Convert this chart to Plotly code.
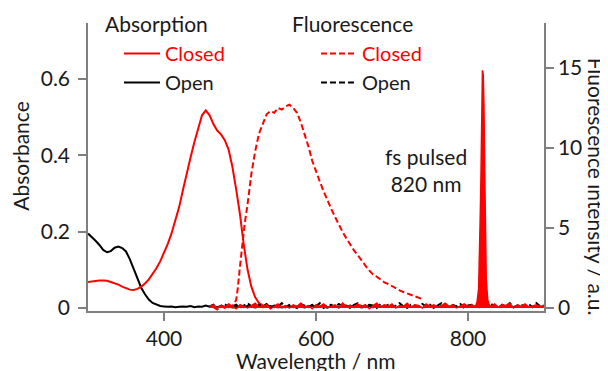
import plotly.graph_objects as go

# ---------------- data ----------------
abs_closed_x = [300, 305, 310, 315, 320, 325, 330, 335, 340, 345, 350, 355, 360, 365, 370,
                375, 380, 385, 390, 395, 400, 405, 410, 415, 420, 425, 430, 435, 440, 445,
                450, 455, 460, 465, 470, 475, 480, 485, 490, 495, 500, 505, 510, 515, 520,
                525, 530, 535, 540, 545, 550, 555, 560]
abs_closed_y = [0.068, 0.070, 0.071, 0.072, 0.072, 0.071, 0.068, 0.065, 0.061, 0.056, 0.051,
                0.048, 0.047, 0.050, 0.056, 0.064, 0.075, 0.088, 0.104, 0.122, 0.143, 0.168,
                0.196, 0.228, 0.265, 0.310, 0.355, 0.395, 0.435, 0.470, 0.505, 0.518, 0.505,
                0.482, 0.465, 0.455, 0.440, 0.415, 0.370, 0.310, 0.245, 0.165, 0.100, 0.055,
                0.028, 0.013, 0.006, 0.003, 0.002, 0.004, 0.001, 0.003, 0.002]

abs_open_x = [300, 305, 310, 315, 320, 325, 330, 335, 340, 345, 350, 355, 360, 365, 370,
              375, 380, 385, 390, 395, 400, 405, 410, 415, 420, 425, 430, 435, 440, 445,
              450, 455, 460, 465, 470, 475, 480, 485, 490, 495, 500, 505, 510, 515, 520,
              525, 530, 535, 540, 545, 550, 555, 560, 565, 570, 575, 580, 585, 590, 595,
              600, 605, 610, 615, 620, 625, 630, 635, 640, 645, 650, 655, 660, 665, 670,
              675, 680, 685, 690, 695, 700]
abs_open_y = [0.195, 0.186, 0.176, 0.165, 0.152, 0.146, 0.149, 0.158, 0.161, 0.157, 0.148,
              0.128, 0.103, 0.077, 0.053, 0.036, 0.022, 0.013, 0.008, 0.005, 0.004, 0.003,
              0.004, 0.002, 0.003, 0.004, 0.003, 0.005, 0.002, 0.004, 0.003, 0.006, 0.003,
              0.004, 0.002, 0.005, 0.003, 0.004, 0.001, 0.003, 0.004, 0.002, 0.005, 0.003,
              0.001, 0.004, 0.002, 0.003, 0.005, 0.002, 0.004, 0.001, 0.003, 0.005, 0.002,
              0.004, 0.003, 0.001, 0.004, 0.006, 0.002, 0.003, 0.004, 0.001, 0.005, 0.003,
              0.002, 0.004, 0.003, 0.006, 0.002, 0.004, 0.001, 0.003, 0.005, 0.002, 0.004,
              0.003, 0.005, 0.002, 0.004]

fl_closed_x = [465, 470, 475, 480, 485, 490, 495, 497, 500, 503, 506, 510, 515, 520, 525,
               530, 535, 540, 545, 550, 555, 560, 565, 570, 575, 580, 585, 590, 595, 600,
               605, 610, 615, 620, 625, 630, 635, 640, 645, 650, 655, 660, 665, 670, 675,
               680, 685, 690, 695, 700, 705, 710, 715, 720, 725, 730, 735, 740]
fl_closed_y = [0.05, -0.1, 0.1, 0.0, 0.15, 0.1, 0.5, 1.2, 2.6, 4.0, 5.2, 6.5, 8.4, 9.8, 10.9,
               11.5, 12.1, 12.3, 12.2, 12.5, 12.4, 12.6, 12.7, 12.5, 12.2, 11.6, 10.9, 10.1,
               9.2, 8.5, 7.9, 7.3, 6.7, 6.2, 5.7, 5.2, 4.75, 4.35, 3.95, 3.6, 3.3, 2.95,
               2.65, 2.35, 2.1, 1.95, 1.75, 1.6, 1.5, 1.35, 1.2, 1.1, 1.0, 0.9, 0.8, 0.7,
               0.6, 0.55]

fl_open_x = [460, 465, 470, 475, 480, 485, 490, 495, 500, 505, 510, 515, 520, 525, 530,
             535, 540, 545, 550, 555, 560, 565, 570, 575, 580, 585, 590, 595, 600, 605,
             610, 615, 620, 625, 630, 635, 640, 645, 650, 655, 660, 665, 670, 675, 680,
             685, 690, 695, 700, 705, 710, 715, 720, 725, 730, 735, 740, 745, 750, 755,
             760, 765, 770, 775, 780, 785, 790, 795, 800, 805, 810, 815, 820, 825, 830,
             835, 840, 845, 850, 855, 860, 865, 870, 875, 880, 885, 890, 895, 900]
fl_open_y = [0.1, 0.2, 0.0, 0.15, 0.25, 0.05, 0.1, 0.2, 0.0, 0.15, 0.3, 0.1, 0.05, 0.2, 0.1,
             0.25, 0.0, 0.15, 0.1, 0.3, 0.05, 0.2, 0.1, 0.0, 0.25, 0.15, 0.05, 0.2, 0.1, 0.3,
             0.0, 0.15, 0.2, 0.05, 0.25, 0.1, 0.15, 0.0, 0.2, 0.3, 0.1, 0.05, 0.2, 0.15, 0.0,
             0.25, 0.1, 0.2, 0.05, 0.15, 0.3, 0.1, 0.0, 0.2, 0.15, 0.05, 0.25, 0.1, 0.2, 0.0,
             0.15, 0.3, 0.1, 0.05, 0.2, 0.1, 0.25, 0.0, 0.15, 0.2, 0.1, 0.05, 0.2, 0.1, 0.25,
             0.15, 0.0, 0.2, 0.1, 0.3, 0.05, 0.15, 0.2, 0.1, 0.25, 0.05, 0.3, 0.1, 0.15]

laser_x = [460, 465, 470, 475, 480, 485, 490, 495, 500, 505, 510, 515, 520, 525, 530,
           535, 540, 545, 550, 555, 560, 565, 570, 575, 580, 585, 590, 595, 600, 605,
           610, 615, 620, 625, 630, 635, 640, 645, 650, 655, 660, 665, 670, 675, 680,
           685, 690, 695, 700, 705, 710, 715, 720, 725, 730, 735, 740, 745, 750, 755,
           760, 765, 770, 775, 780, 785, 790, 795, 800, 805, 810,
           812, 814, 815, 816, 817, 818, 819, 820, 821, 822, 823, 824, 826, 828,
           830, 835, 840, 845, 850, 855, 860, 865, 870, 875, 880, 885, 890, 895, 900]
laser_y = [0.1, 0.2, 0.0, 0.15, 0.05, 0.25, 0.1, -0.05, 0.2, 0.1,
           0.0, 0.15, 0.3, 0.05, 0.1, 0.2, -0.05, 0.1, 0.25, 0.05,
           0.15, 0.0, 0.2, 0.1, 0.3, 0.05, 0.15, -0.05, 0.2, 0.1,
           0.25, 0.05, 0.1, 0.2, 0.0, 0.3, 0.1, 0.15, 0.05, 0.25,
           0.1, 0.2, -0.05, 0.15, 0.3, 0.05, 0.2, 0.1, 0.25, 0.0,
           0.15, 0.1, 0.3, 0.05, 0.2, 0.15, 0.0, 0.25, 0.1, 0.2,
           0.05, 0.15, 0.3, 0.1, 0.2, 0.0, 0.15, 0.25, 0.1, 0.2,
           0.1,
           0.4, 1.2, 2.8, 5.5, 8.0, 12.8, 14.85, 14.6, 12.7, 8.5, 4.5, 1.8, 0.5, 0.2,
           0.1, 0.25, 0.05, 0.2, 0.15, 0.3, 0.0, 0.2, 0.1, 0.25, 0.05, 0.15, 0.2, 0.1, 0.15]

x_ticks = [400, 600, 800]
y_ticks = [0, 0.2, 0.4, 0.6]
y_ticklabels = ["0", "0.2", "0.4", "0.6"]
y2_ticks = [0, 5, 10, 15]

RED = "#ff0000"
BLACK = "#000000"
AXIS = "#7f7f7f"
TXT = "#1a1a1a"
FONT = "Lato"
FS = 21

fig = go.Figure()

fig.add_trace(go.Scatter(x=fl_open_x, y=fl_open_y, yaxis="y2", mode="lines",
                         line=dict(color=BLACK, width=2, dash="6px,3px"),
                         name="Open", legend="legend2", legendrank=2))
fig.add_trace(go.Scatter(x=abs_open_x, y=abs_open_y, mode="lines",
                         line=dict(color=BLACK, width=2),
                         name="Open", legend="legend", legendrank=2))
fig.add_trace(go.Scatter(x=abs_closed_x, y=abs_closed_y, mode="lines",
                         line=dict(color=RED, width=2),
                         name="<span style='color:#ff0000'>Closed</span>",
                         legend="legend", legendrank=1))
fig.add_trace(go.Scatter(x=fl_closed_x, y=fl_closed_y, yaxis="y2", mode="lines",
                         line=dict(color=RED, width=2, dash="6px,3px"),
                         name="<span style='color:#ff0000'>Closed</span>",
                         legend="legend2", legendrank=1))
fig.add_trace(go.Scatter(x=laser_x, y=laser_y, yaxis="y2", mode="lines",
                         line=dict(color=RED, width=1.5), fill="tozeroy",
                         fillcolor=RED, showlegend=False))

axis_common = dict(showline=True, linecolor=AXIS, linewidth=1.5, ticks="outside",
                   ticklen=8, tickcolor=AXIS, tickwidth=1.5, showgrid=False,
                   zeroline=False, tickfont=dict(family=FONT, size=FS, color=TXT))

leg_common = dict(font=dict(family=FONT, size=20, color=TXT), bgcolor="rgba(0,0,0,0)",
                  xanchor="left", yanchor="top", itemwidth=36, tracegroupgap=0,
                  traceorder="normal")


def ann(text, x, y, **kw):
    d = dict(text=text, x=x, y=y, xref="paper", yref="paper", xanchor="center",
             yanchor="middle", showarrow=False, font=dict(family=FONT, size=FS, color=TXT))
    d.update(kw)
    return d


fig.update_layout(
    width=600, height=363,
    margin=dict(l=80, r=64, t=15, b=60),
    paper_bgcolor="white", plot_bgcolor="white",
    font=dict(family=FONT, size=FS, color=TXT),
    xaxis=dict(range=[300, 900], tickvals=x_ticks, **axis_common),
    yaxis=dict(range=[-0.008, 0.747], tickvals=y_ticks, ticktext=y_ticklabels,
               ticklabelstandoff=4, **axis_common),
    yaxis2=dict(range=[-0.19, 17.81], tickvals=y2_ticks, overlaying="y", side="right",
                **axis_common),
    legend=dict(x=0.068, y=0.962, **leg_common),
    legend2=dict(x=0.5, y=0.962, **leg_common),
    annotations=[
        ann("Absorption", 0.033, 0.998, xanchor="left"),
        ann("Fluorescence", 0.443, 0.998, xanchor="left"),
        ann("fs pulsed<br>820 nm", 0.741, 0.49),
        ann("Absorbance", -0.15, 0.538, textangle=-90),
        ann("Fluorescence intensity / a.u.", 1.116, 0.432, textangle=90),
        ann("Wavelength / nm", 0.5, -0.173),
    ],
)

fig.write_html("out.html")
